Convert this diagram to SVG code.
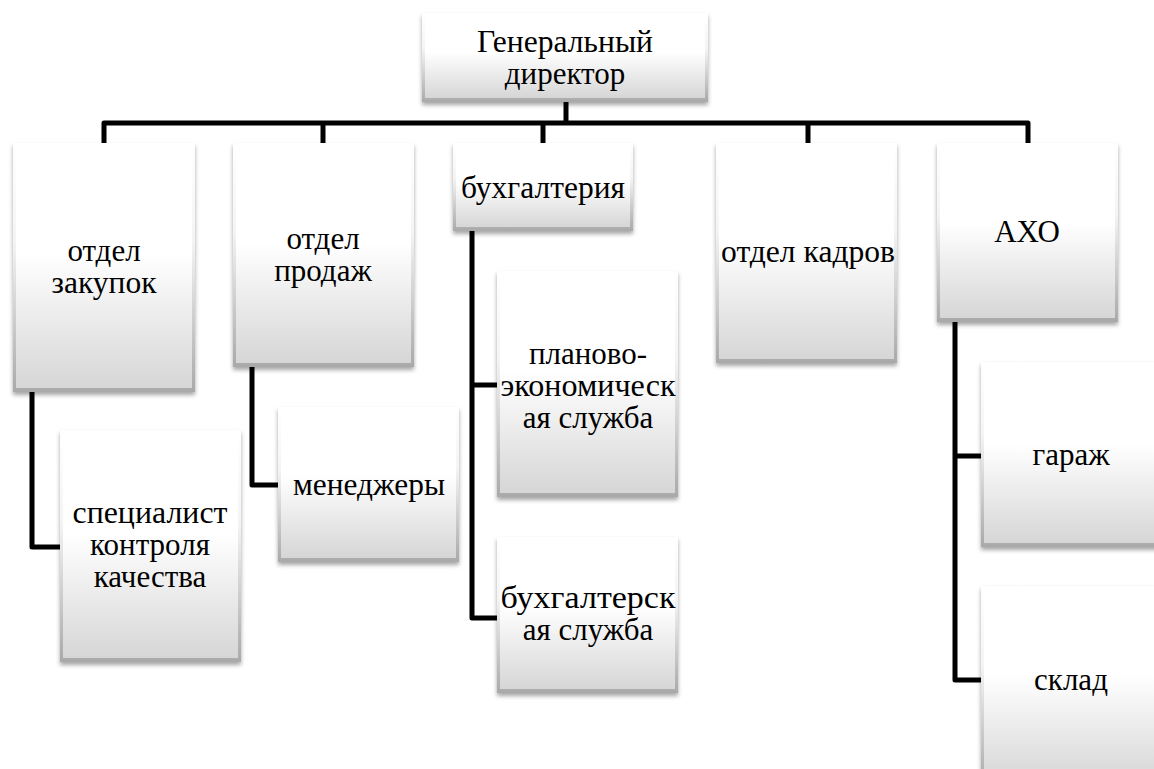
<svg xmlns="http://www.w3.org/2000/svg" width="1154" height="769" viewBox="0 0 1154 769">
<style>
.o{fill:url(#ge);filter:url(#sh);}
.i{fill:url(#gi);}
.t{font-family:'Liberation Serif','Times New Roman',serif;font-size:31px;fill:#000;text-anchor:middle;}
.c{fill:none;stroke:#000;stroke-width:5;stroke-linejoin:round;}
</style>
<defs>
<linearGradient id="ge" x1="0" y1="0" x2="0" y2="1">
<stop offset="0" stop-color="#ffffff"/>
<stop offset="0.4" stop-color="#f4f4f4"/>
<stop offset="1" stop-color="#a9a9a9"/>
</linearGradient>
<linearGradient id="gi" x1="0" y1="0" x2="0" y2="1">
<stop offset="0" stop-color="#ffffff"/>
<stop offset="0.45" stop-color="#ffffff"/>
<stop offset="1" stop-color="#d6d6d6"/>
</linearGradient>
<filter id="sh" x="-10%" y="-10%" width="120%" height="125%">
<feDropShadow dx="0" dy="3" stdDeviation="2" flood-color="#000" flood-opacity="0.35"/>
</filter>
</defs>
<rect width="1154" height="769" fill="#fff"/>
<g id="connectors">
<path class="c" d="M566 102V123"/>
<path class="c" d="M104 143V123H1028V143"/>
<path class="c" d="M323 123V143"/>
<path class="c" d="M543 123V143"/>
<path class="c" d="M808 123V143"/>
<path class="c" d="M32 392V547H60"/>
<path class="c" d="M252 367V485H278"/>
<path class="c" d="M472 231V618H497"/>
<path class="c" d="M472 385H497"/>
<path class="c" d="M955 322V680H981"/>
<path class="c" d="M955 456H981"/>
</g>
<g id="n-gd">
<rect class="o" x="422" y="13" width="286" height="89"/>
<rect class="i" x="425" y="15" width="280" height="83"/>
<text class="t" x="565" y="52" textLength="176" lengthAdjust="spacingAndGlyphs">Генеральный</text>
<text class="t" x="565" y="84">директор</text>
</g>
<g id="n-zak">
<rect class="o" x="13" y="143" width="182" height="249"/>
<rect class="i" x="16" y="145" width="176" height="243"/>
<text class="t" x="104" y="261">отдел</text>
<text class="t" x="104" y="293" textLength="105" lengthAdjust="spacingAndGlyphs">закупок</text>
</g>
<g id="n-prod">
<rect class="o" x="233" y="143" width="181" height="224"/>
<rect class="i" x="236" y="145" width="175" height="218"/>
<text class="t" x="323" y="249">отдел</text>
<text class="t" x="323" y="281">продаж</text>
</g>
<g id="n-buh">
<rect class="o" x="453" y="143" width="180" height="88"/>
<rect class="i" x="456" y="145" width="174" height="82"/>
<text class="t" x="543" y="198" textLength="164" lengthAdjust="spacingAndGlyphs">бухгалтерия</text>
</g>
<g id="n-kadr">
<rect class="o" x="716" y="143" width="181" height="220"/>
<rect class="i" x="719" y="145" width="175" height="214"/>
<text class="t" x="808" y="262" textLength="174" lengthAdjust="spacingAndGlyphs">отдел кадров</text>
</g>
<g id="n-aho">
<rect class="o" x="937" y="143" width="181" height="179"/>
<rect class="i" x="940" y="145" width="175" height="173"/>
<text class="t" x="1027" y="242">АХО</text>
</g>
<g id="n-spec">
<rect class="o" x="60" y="430" width="181" height="232"/>
<rect class="i" x="63" y="432" width="175" height="226"/>
<text class="t" x="150" y="523" textLength="155" lengthAdjust="spacingAndGlyphs">специалист</text>
<text class="t" x="150" y="555">контроля</text>
<text class="t" x="150" y="587">качества</text>
</g>
<g id="n-men">
<rect class="o" x="278" y="407" width="181" height="155"/>
<rect class="i" x="281" y="409" width="175" height="149"/>
<text class="t" x="369" y="495" textLength="152" lengthAdjust="spacingAndGlyphs">менеджеры</text>
</g>
<g id="n-plan">
<rect class="o" x="497" y="271" width="181" height="226"/>
<rect class="i" x="500" y="273" width="175" height="220"/>
<text class="t" x="588" y="364">планово-</text>
<text class="t" x="588" y="396" textLength="175" lengthAdjust="spacingAndGlyphs">экономическ</text>
<text class="t" x="588" y="428">ая служба</text>
</g>
<g id="n-buhsl">
<rect class="o" x="497" y="537" width="181" height="156"/>
<rect class="i" x="500" y="539" width="175" height="150"/>
<text class="t" x="588" y="608" textLength="175" lengthAdjust="spacingAndGlyphs">бухгалтерск</text>
<text class="t" x="588" y="640">ая служба</text>
</g>
<g id="n-gar">
<rect class="o" x="981" y="362" width="181" height="185"/>
<rect class="i" x="984" y="364" width="175" height="179"/>
<text class="t" x="1071" y="465">гараж</text>
</g>
<g id="n-skl">
<rect class="o" x="981" y="586" width="181" height="200"/>
<rect class="i" x="984" y="588" width="175" height="194"/>
<text class="t" x="1071" y="690">склад</text>
</g>
</svg>
